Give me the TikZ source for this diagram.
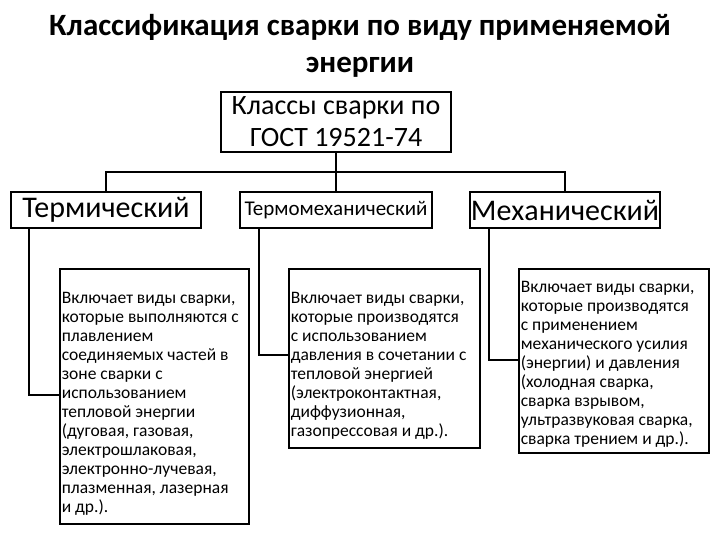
\documentclass[tikz,border=0pt]{standalone}
\usepackage{fontspec}
\setmainfont{Carlito}
\begin{document}
\begin{tikzpicture}[x=1pt,y=-1pt,line width=1.6pt,
  hdr/.style={draw,rectangle,inner sep=0pt,font=\fontsize{30}{32}\selectfont},
  desc/.style={draw,rectangle,anchor=north west,inner xsep=2pt,inner ysep=0pt,align=flush left,font=\fontsize{17.5}{19}\selectfont}]
\useasboundingbox (0,0) rectangle (720,540);
\node[font=\bfseries\fontsize{31}{37}\selectfont,align=center] (title) at (360,46) {Классификация сварки по виду применяемой\\энергии};
\node[draw,minimum width=230,minimum height=60,inner sep=0pt,align=center,font=\fontsize{28}{32}\selectfont] (top) at (336,122) {Классы сварки по\\ГОСТ 19521-74};
\node[hdr,minimum width=190,minimum height=36] (t) at (106,210) {Термический};
\node[draw,inner sep=0pt,minimum width=192,minimum height=36,font=\fontsize{21}{23}\selectfont] (tm) at (336,210) {Термомеханический};
\node[hdr,minimum width=190,minimum height=36] (m) at (565,210) {Механический};
\draw (top.south) -- (336,172) coordinate (j);
\draw (t.north) |- (j) -| (m.north);
\draw (j) -- (tm.north);
\node[desc,minimum width=189,minimum height=255,text width=185] (d1) at (59,268) {\rule{0pt}{26pt}Включает виды сварки,\\которые выполняются с\\плавлением\\соединяемых частей в\\зоне сварки с\\использованием\\тепловой энергии\\(дуговая, газовая,\\электрошлаковая,\\электронно-лучевая,\\плазменная, лазерная\\и др.).};
\node[desc,minimum width=191,minimum height=179,text width=187] (d2) at (288,268) {\rule{0pt}{26pt}Включает виды сварки,\\которые производятся\\с использованием\\давления в сочетании с\\тепловой энергией\\(электроконтактная,\\диффузионная,\\газопрессовая и др.).};
\node[desc,minimum width=190,minimum height=184,text width=186] (d3) at (518,268) {\rule{0pt}{18pt}Включает виды сварки,\\которые производятся\\с применением\\механического усилия\\(энергии) и давления\\(холодная сварка,\\сварка взрывом,\\ультразвуковая сварка,\\сварка трением и др.).};
\draw (t.south west) ++(19,0) coordinate (a1) -- (a1 |- 0,395) -- (d1.west |- 0,395);
\draw (tm.south west) ++(20,0) coordinate (a2) -- (a2 |- 0,355) -- (d2.west |- 0,355);
\draw (m.south west) ++(20,0) coordinate (a3) -- (a3 |- 0,360) -- (d3.west |- 0,360);
\end{tikzpicture}
\end{document}
